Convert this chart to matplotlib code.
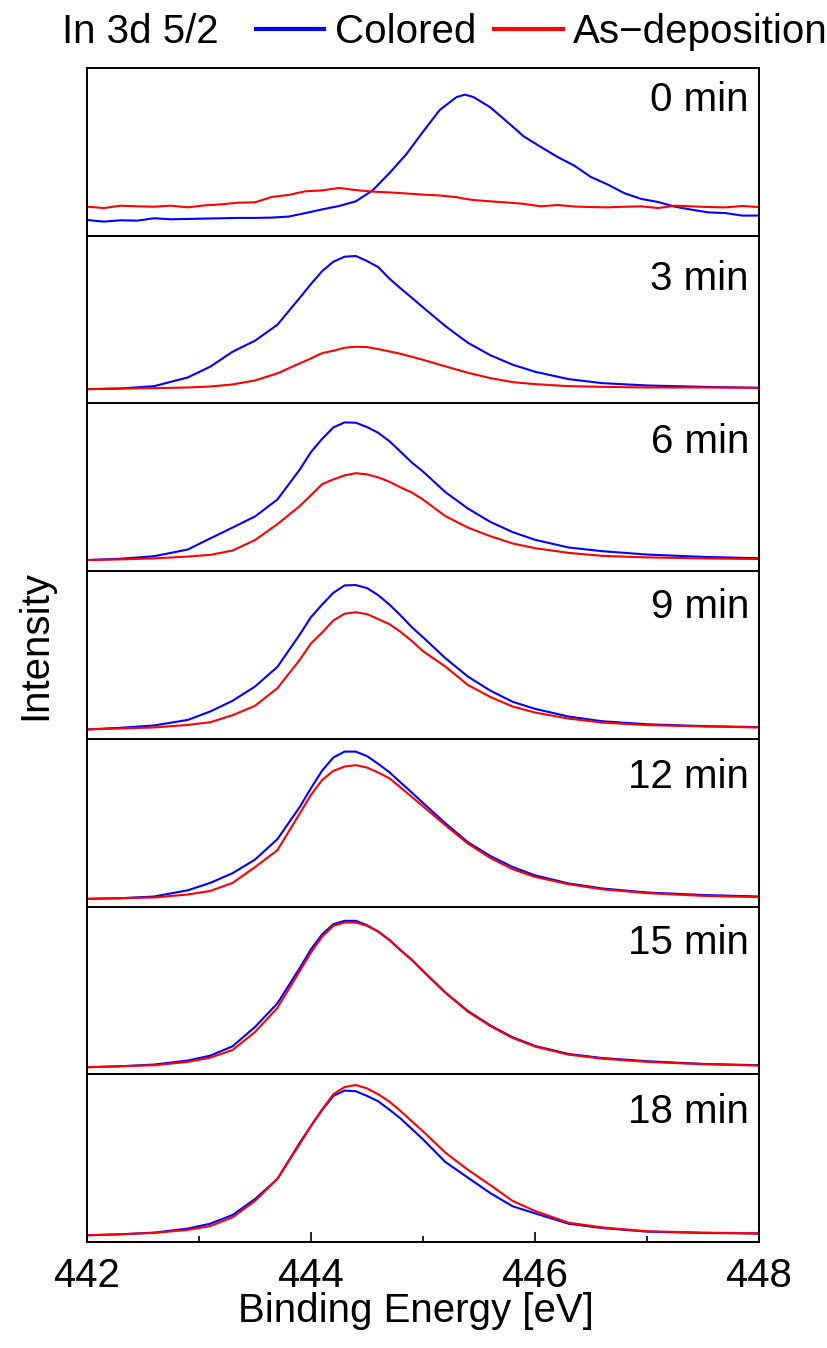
import matplotlib
matplotlib.use("Agg")
import matplotlib.pyplot as plt
from matplotlib.lines import Line2D
from matplotlib.ticker import MultipleLocator

plt.rcParams['font.family'] = ['Liberation Sans', 'DejaVu Sans']

# 0 min panel: noisy spectra, own energy grid
energy_0 = [442.0, 442.15, 442.3, 442.45, 442.6, 442.75, 442.9, 443.05, 443.2, 443.35,
            443.5, 443.65, 443.8, 443.95, 444.1, 444.25, 444.4, 444.55, 444.7, 444.85,
            445.0, 445.15, 445.3, 445.375, 445.45, 445.6, 445.75, 445.9, 446.05, 446.2,
            446.35, 446.5, 446.65, 446.8, 446.95, 447.1, 447.25, 447.4, 447.55, 447.7,
            447.85, 448.0]
colored_0 = [0.094, 0.084, 0.092, 0.090, 0.104, 0.098, 0.100, 0.102, 0.104, 0.106,
             0.106, 0.108, 0.114, 0.135, 0.157, 0.177, 0.205, 0.270, 0.373, 0.485,
             0.620, 0.750, 0.827, 0.841, 0.827, 0.766, 0.680, 0.592, 0.530, 0.470,
             0.418, 0.350, 0.305, 0.253, 0.219, 0.201, 0.173, 0.155, 0.139, 0.135,
             0.120, 0.120]
asdep_0 = [0.173, 0.165, 0.179, 0.175, 0.173, 0.179, 0.169, 0.181, 0.187, 0.197,
           0.199, 0.231, 0.243, 0.265, 0.270, 0.285, 0.272, 0.263, 0.258, 0.252,
           0.245, 0.240, 0.230, 0.220, 0.213, 0.205, 0.198, 0.190, 0.175, 0.183,
           0.174, 0.171, 0.169, 0.173, 0.175, 0.165, 0.179, 0.175, 0.171, 0.169,
           0.177, 0.171]

# other panels share one energy grid
energy = [442.0, 442.3, 442.6, 442.9, 443.1, 443.3, 443.5, 443.7, 443.9, 444.0,
          444.1, 444.2, 444.3, 444.4, 444.5, 444.6, 444.7, 444.8, 444.9, 445.0,
          445.2, 445.4, 445.6, 445.8, 446.0, 446.3, 446.6, 447.0, 447.5, 448.0]

colored_3 = [0.085, 0.089, 0.103, 0.155, 0.219, 0.308, 0.374, 0.469, 0.630, 0.712,
             0.789, 0.845, 0.875, 0.879, 0.849, 0.813, 0.744, 0.686, 0.630, 0.573,
             0.461, 0.362, 0.288, 0.231, 0.189, 0.145, 0.121, 0.107, 0.099, 0.093]
asdep_3 = [0.085, 0.089, 0.091, 0.095, 0.101, 0.113, 0.137, 0.179, 0.239, 0.268,
           0.300, 0.314, 0.332, 0.338, 0.336, 0.324, 0.310, 0.296, 0.278, 0.260,
           0.221, 0.183, 0.151, 0.127, 0.115, 0.103, 0.099, 0.095, 0.095, 0.093]

colored_6 = [0.066, 0.074, 0.089, 0.129, 0.195, 0.260, 0.326, 0.427, 0.606, 0.710,
             0.789, 0.857, 0.887, 0.885, 0.859, 0.825, 0.775, 0.712, 0.648, 0.594,
             0.471, 0.374, 0.294, 0.233, 0.187, 0.141, 0.119, 0.099, 0.085, 0.077]
asdep_6 = [0.066, 0.070, 0.076, 0.087, 0.097, 0.123, 0.185, 0.280, 0.388, 0.453,
           0.519, 0.547, 0.571, 0.584, 0.577, 0.559, 0.533, 0.499, 0.469, 0.427,
           0.328, 0.260, 0.209, 0.165, 0.137, 0.109, 0.091, 0.082, 0.076, 0.072]

colored_9 = [0.056, 0.066, 0.080, 0.113, 0.163, 0.227, 0.312, 0.429, 0.622, 0.726,
             0.801, 0.871, 0.915, 0.917, 0.899, 0.857, 0.801, 0.736, 0.666, 0.606,
             0.481, 0.372, 0.288, 0.221, 0.179, 0.133, 0.105, 0.087, 0.076, 0.070]
asdep_9 = [0.056, 0.062, 0.068, 0.083, 0.099, 0.141, 0.197, 0.302, 0.471, 0.569,
           0.634, 0.706, 0.746, 0.755, 0.744, 0.714, 0.684, 0.638, 0.584, 0.523,
           0.431, 0.322, 0.250, 0.193, 0.157, 0.121, 0.097, 0.082, 0.074, 0.068]

colored_12 = [0.046, 0.050, 0.060, 0.097, 0.141, 0.199, 0.280, 0.402, 0.594, 0.706,
              0.811, 0.889, 0.924, 0.924, 0.897, 0.851, 0.801, 0.740, 0.680, 0.618,
              0.497, 0.384, 0.302, 0.236, 0.186, 0.138, 0.108, 0.084, 0.069, 0.060]
asdep_12 = [0.046, 0.050, 0.054, 0.072, 0.093, 0.141, 0.235, 0.336, 0.555, 0.666,
            0.755, 0.809, 0.835, 0.843, 0.829, 0.799, 0.765, 0.710, 0.654, 0.598,
            0.485, 0.376, 0.290, 0.223, 0.177, 0.133, 0.103, 0.080, 0.064, 0.056]

colored_15 = [0.042, 0.048, 0.058, 0.082, 0.111, 0.167, 0.282, 0.423, 0.634, 0.746,
              0.835, 0.895, 0.915, 0.915, 0.889, 0.851, 0.801, 0.740, 0.682, 0.616,
              0.487, 0.378, 0.292, 0.221, 0.169, 0.121, 0.097, 0.078, 0.062, 0.054]
asdep_15 = [0.042, 0.048, 0.054, 0.074, 0.099, 0.145, 0.252, 0.396, 0.616, 0.726,
            0.821, 0.885, 0.905, 0.905, 0.885, 0.851, 0.801, 0.740, 0.682, 0.616,
            0.487, 0.374, 0.288, 0.217, 0.165, 0.117, 0.093, 0.074, 0.060, 0.052]

colored_18 = [0.040, 0.046, 0.056, 0.080, 0.109, 0.161, 0.256, 0.376, 0.592, 0.692,
              0.787, 0.871, 0.903, 0.899, 0.871, 0.839, 0.789, 0.736, 0.674, 0.612,
              0.477, 0.384, 0.292, 0.213, 0.171, 0.109, 0.083, 0.062, 0.054, 0.050]
asdep_18 = [0.040, 0.046, 0.054, 0.072, 0.095, 0.147, 0.245, 0.376, 0.584, 0.692,
            0.791, 0.881, 0.924, 0.936, 0.916, 0.881, 0.837, 0.781, 0.720, 0.660,
            0.533, 0.431, 0.340, 0.245, 0.185, 0.115, 0.087, 0.064, 0.056, 0.052]

times = ['0 min', '3 min', '6 min', '9 min', '12 min', '15 min', '18 min']
x_sets = [energy_0] + [energy] * 6
colored = [colored_0, colored_3, colored_6, colored_9, colored_12, colored_15, colored_18]
asdep = [asdep_0, asdep_3, asdep_6, asdep_9, asdep_12, asdep_15, asdep_18]
label_y = [0.81, 0.74, 0.77, 0.785, 0.775, 0.785, 0.775]  # where the time label sits

W, H = 828, 1348
FS = 29
fig, axes = plt.subplots(7, 1, sharex=True, figsize=(W / 100, H / 100), dpi=100)
fig.subplots_adjust(left=87 / W, right=759 / W, top=1 - 68 / H, bottom=1 - 1242 / H, hspace=0)

for i, ax in enumerate(axes):
    ax.plot(x_sets[i], colored[i], color='#0000ff', lw=1.5)
    ax.plot(x_sets[i], asdep[i], color='#ff0000', lw=1.5)
    ax.set_ylim(0, 1)
    ax.set_xlim(442, 448)
    ax.set_yticks([])
    for s in ax.spines.values():
        s.set_linewidth(1.4)
    ax.text(0.985, label_y[i], times[i], transform=ax.transAxes, ha='right', va='center',
            fontsize=FS)
    ax.tick_params(axis='x', which='both', bottom=False, top=False, labelbottom=False)

bx = axes[-1]
bx.xaxis.set_major_locator(MultipleLocator(2))
bx.xaxis.set_minor_locator(MultipleLocator(1))
bx.tick_params(axis='x', which='both', bottom=True, direction='in', labelbottom=True,
               labelsize=FS, pad=11)
bx.tick_params(axis='x', which='major', length=7, width=1.2)
bx.tick_params(axis='x', which='minor', length=4, width=1.2)

fig.text(416 / W, 1 - 1311 / H, 'Binding Energy [eV]', ha='center', va='center', fontsize=FS)
fig.text(35 / W, 1 - 645 / H, 'Intensity', ha='center', va='center', rotation=90, fontsize=FS)

# legend row at the top
fig.text(62 / W, 1 - 32 / H, 'In 3d 5/2', ha='left', va='center', fontsize=FS)
handles = [Line2D([], [], color='#0000ff', lw=3), Line2D([], [], color='#ff0000', lw=3)]
fig.legend(handles, ['Colored', 'As\u2212deposition'], loc='center left',
           bbox_to_anchor=(256 / W, 1 - 32 / H), ncol=2, frameon=False, fontsize=FS,
           handlelength=1.7, handletextpad=0.25, columnspacing=0.45, borderpad=0,
           borderaxespad=0)

fig.savefig('out.png', dpi=100)
